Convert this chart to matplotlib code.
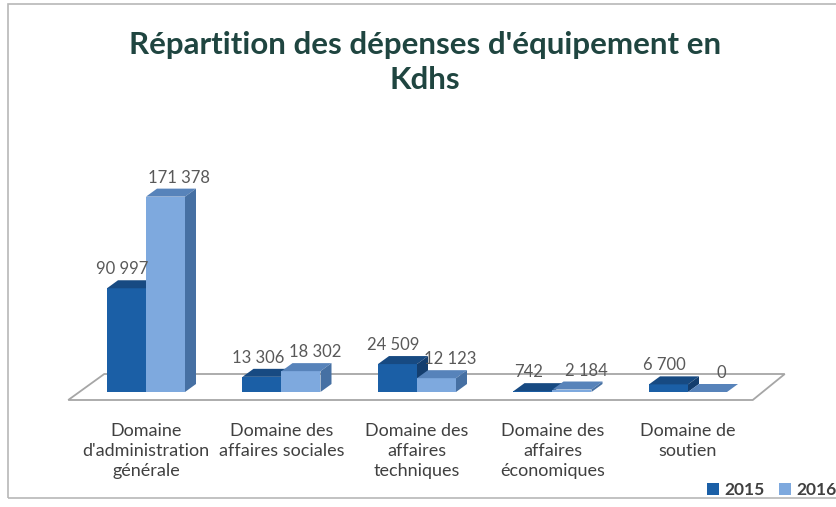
import numpy as np
import matplotlib
matplotlib.use("Agg")
import matplotlib.pyplot as plt
from matplotlib.patches import Polygon, Rectangle

categories = ["Domaine\nd'administration\ngénérale", "Domaine des\naffaires sociales",
              "Domaine des\naffaires\ntechniques", "Domaine des\naffaires\néconomiques",
              "Domaine de\nsoutien"]
years = ["2015", "2016"]
v2015 = [90997, 13306, 24509, 742, 6700]
v2016 = [171378, 18302, 12123, 2184, 0]
labels2015 = ["90 997", "13 306", "24 509", "742", "6 700"]
labels2016 = ["171 378", "18 302", "12 123", "2 184", "0"]

FRONT = ["#1b5fa6", "#7ea9de"]
TOP = ["#174a82", "#5783ba"]
SIDE = ["#143e6e", "#4670a3"]
TXT = "#595959"
FONT = "Lato"

W, H = 837, 507
fig = plt.figure(figsize=(W / 100, H / 100), dpi=100)
fig.patch.set_facecolor("white")

# chart frame
fig.add_artist(Rectangle((8 / W, 1 - 498 / H), 1.0, (498 - 4) / H, transform=fig.transFigure,
                         fill=False, ec="#b8b8b8", lw=1.2))

# axes placed so that 0 sits at y=392px and group centres are 135.5px apart
k = 0.00114                       # px per unit
ymin, ymax = -7000, 200000
ax_bottom = H - 392 - (-ymin) * k
ax = fig.add_axes([78.25 / W, ax_bottom / H, 677.5 / W, (ymax - ymin) * k / H])
ax.set_xlim(-0.5, 4.5)
ax.set_ylim(ymin, ymax)
ax.axis("off")

px_x = 1 / 135.5                  # data units per px on x
px_y = 1 / k                      # data units per px on y
dx, dy = 11 * px_x, 8 * px_y      # depth of bars

# floor
fx0, fx1 = -0.5 - 10 * px_x, 4.5 - 3 * px_x
floor = Polygon([(fx0, -8 * px_y), (fx1, -8 * px_y), (fx1 + 32 * px_x, 18 * px_y),
                 (fx0 + 36 * px_x, 18 * px_y)], closed=True, fc="white", ec="#a6a6a6",
                lw=1.3, zorder=1, clip_on=False)
ax.add_patch(floor)

x = np.arange(len(categories))
bw = 39 * px_x
for s, (vals, labs) in enumerate([(v2015, labels2015), (v2016, labels2016)]):
    xs = x + (s - 0.5) * bw
    ax.bar(xs, vals, bw, color=FRONT[s], zorder=3 + s, label=years[s])
    for xc, h, lab in zip(xs, vals, labs):
        x0, x1 = xc - bw / 2, xc + bw / 2
        ax.add_patch(Polygon([(x0, h), (x1, h), (x1 + dx, h + dy), (x0 + dx, h + dy)],
                             fc=TOP[s], ec="none", zorder=3 + s))
        ax.add_patch(Polygon([(x1, 0), (x1 + dx, dy), (x1 + dx, h + dy), (x1, h)],
                             fc=SIDE[s], ec="none", zorder=3 + s))
        off = -4 if s == 0 else 14
        ax.annotate(lab, (xc, h + dy), xytext=(off, 11), textcoords="offset pixels",
                    ha="center", va="center", fontsize=12, color=TXT,
                    family=FONT, zorder=10)

for xc, cat in zip(x, categories):
    ax.annotate(cat, (xc, 0), xytext=(0, -31), textcoords="offset pixels",
                ha="center", va="top", fontsize=13, color="#404040",
                family=FONT, linespacing=1.3)

fig.text(425 / W, 1 - 45 / H, "Répartition des dépenses d'équipement en", ha="center",
         va="center", fontsize=22.5, fontweight="bold", color="#1f4540", family=FONT)
fig.text(425 / W, 1 - 80 / H, "Kdhs", ha="center", va="center", fontsize=22.5,
         fontweight="bold", color="#1f4540", family=FONT)

leg = fig.legend(loc="center right", bbox_to_anchor=(0.999, 1 - 490 / H), ncol=2, frameon=False,
                 handlelength=0.7, handleheight=0.7, handletextpad=0.3, columnspacing=0.8,
                 borderaxespad=0, borderpad=0, prop=dict(family=FONT, weight="bold", size=12.5))
for t in leg.get_texts():
    t.set_color("#404040")

fig.savefig("out.png", dpi=100)
